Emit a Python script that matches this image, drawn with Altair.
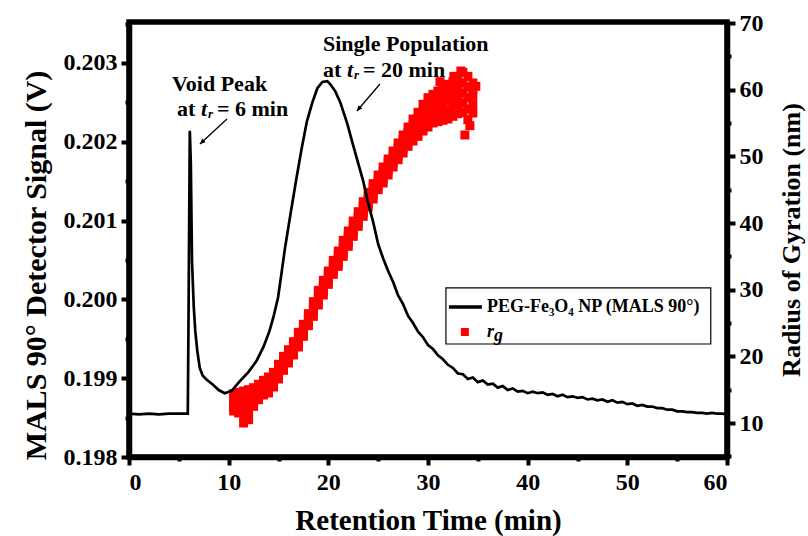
import altair as alt
import pandas as pd

FONT = "Liberation Serif"

# ---------------- data ----------------
# MALS 90 degree detector signal (V) vs retention time (min)
mals_t = [0, 1, 2, 3, 4, 5, 5.9, 5.98, 6.1, 6.2, 6.32, 6.5, 6.65, 6.85, 7.1, 7.4, 7.8,
          8.4, 9.0, 9.6, 10.3, 11.1, 12.0, 12.8, 13.5, 14.1, 14.5, 14.95, 15.3, 15.65,
          16.2, 16.75, 17.3, 17.85, 18.4, 18.9, 19.4, 19.9, 20.2, 20.7, 21.2, 21.9,
          22.5, 22.9, 23.5, 24.0, 24.5, 25.0, 25.5, 26.0, 26.5,
          27.0, 27.5, 28.0, 28.5, 29.0, 29.5, 30.0, 30.5, 31.0, 31.5, 32.0, 32.5,
          33.0, 33.5, 34.0, 34.5, 35.0, 35.5, 36.0, 36.5, 37.0, 37.5, 38.0, 38.5,
          39.0, 39.5, 40.0, 40.5, 41.0, 41.5, 42.0, 42.5, 43.0, 43.5, 44.0, 44.5,
          45.0, 45.5, 46.0, 46.5, 47.0, 47.5, 48.0, 48.5, 49.0, 49.5, 50.0, 50.5,
          51.0, 51.5, 52.0, 52.5, 53.0, 53.5, 54.0, 54.5, 55.0, 55.5, 56.0, 56.5,
          57.0, 57.5, 58.0, 58.5, 59.0, 59.5, 60.0]
mals_v = [0.19855, 0.19854, 0.19855, 0.19854, 0.19855, 0.19855, 0.19855, 0.19990, 0.20214,
          0.20175, 0.20049, 0.19990, 0.19960, 0.19935, 0.19913, 0.19903, 0.19898,
          0.19892, 0.19885, 0.19881, 0.19884, 0.19896, 0.19908, 0.19922, 0.19940,
          0.19960, 0.19978, 0.20002, 0.20033, 0.20065,
          0.20108, 0.20150, 0.20190, 0.20226, 0.20250, 0.20268, 0.20276, 0.20277,
          0.20273, 0.20264, 0.20250, 0.20223,
          0.20195, 0.20177, 0.20150, 0.20122, 0.20098, 0.20070, 0.20052, 0.20036, 0.20022,
          0.20005, 0.19994, 0.19979, 0.19970, 0.19959, 0.19952, 0.19942, 0.19937,
          0.19929, 0.19924, 0.19917, 0.19913,
          0.19906, 0.19905, 0.19899, 0.19901, 0.19895, 0.19897, 0.19892, 0.19893,
          0.19888, 0.19890, 0.19885, 0.19887,
          0.19883, 0.19884, 0.19881, 0.19883, 0.19881, 0.19882, 0.19879, 0.19880,
          0.19877, 0.19879, 0.19876, 0.19877,
          0.19875, 0.19876, 0.19873, 0.19874, 0.19872, 0.19873, 0.19870, 0.19872,
          0.19869, 0.19870, 0.19867, 0.19868,
          0.19865, 0.19866, 0.19864, 0.19864, 0.19862, 0.19862, 0.19860, 0.19860,
          0.19858, 0.19858, 0.19857, 0.19857,
          0.19856, 0.19856, 0.19855, 0.19856, 0.19855, 0.19855, 0.19854]

# radius of gyration (nm) band: readings across the band (low .. high) at each time
rg_t = [10.5, 11.0, 11.5, 12.0, 12.5, 13.0, 13.5, 14.0, 14.5, 15.0, 15.5, 16.0, 16.5,
        17.0, 17.5, 18.0, 18.5, 19.0, 19.5, 20.0, 20.5, 21.0, 21.5, 22.0, 22.5, 23.0,
        23.5, 24.0, 24.5, 25.0, 25.5, 26.0, 26.5, 27.0, 27.5, 28.0, 28.5, 29.0, 29.5,
        30.0, 30.5, 31.0, 31.5, 32.0, 32.5, 33.0, 33.5, 34.0, 34.5]
rg_lo = [11.8, 11.5, 10.0, 10.5, 12.5, 13.5, 14.2, 14.5, 15.4, 16.6, 17.9, 19.0, 20.2,
         21.4, 23.0, 24.6, 26.0, 27.7, 29.2, 30.8, 32.3, 33.5, 35.0, 36.5, 38.0, 39.5,
         41.0, 42.4, 43.6, 45.0, 46.0, 47.2, 48.4, 49.5, 50.5, 51.5, 52.3, 53.0, 53.8,
         54.4, 55.0, 55.2, 55.4, 55.6, 56.0, 56.4, 56.6, 55.5, 56.5]
rg_q1 = [12.4, 12.3, 11.2, 11.7, 13.2, 14.0, 14.7, 15.1, 15.9, 17.1, 18.4, 19.5, 20.7,
         21.9, 23.4, 25.0, 26.5, 28.2, 29.7, 31.3, 32.8, 34.1, 35.6, 37.0, 38.5, 40.0,
         41.5, 42.9, 44.2, 45.5, 46.6, 47.8, 49.0, 50.1, 51.1, 52.2, 53.1, 53.9, 54.7,
         55.4, 56.0, 56.3, 56.6, 56.9, 57.3, 57.7, 58.0, 57.1, 57.7]
rg_mid = [13.0, 13.2, 12.5, 13.0, 14.0, 14.6, 15.3, 15.8, 16.5, 17.7, 19.0, 20.0, 21.2,
          22.5, 23.9, 25.5, 27.1, 28.8, 30.3, 31.8, 33.3, 34.7, 36.2, 37.6, 39.1, 40.6,
          42.1, 43.5, 44.8, 46.1, 47.2, 48.4, 49.6, 50.7, 51.8, 52.9, 53.9, 54.8, 55.7,
          56.5, 57.1, 57.5, 57.9, 58.3, 58.6, 59.0, 59.5, 58.8, 59.0]
rg_q3 = [13.7, 13.9, 13.6, 14.0, 14.6, 15.2, 15.8, 16.3, 17.0, 18.2, 19.5, 20.5, 21.7,
         23.0, 24.3, 25.9, 27.6, 29.3, 30.8, 32.3, 33.8, 35.2, 36.8, 38.2, 39.7, 41.1,
         42.6, 44.0, 45.3, 46.6, 47.8, 49.0, 50.2, 51.3, 52.5, 53.6, 54.7, 55.7, 56.7,
         57.6, 58.2, 58.6, 59.1, 59.5, 59.9, 60.3, 61.0, 60.4, 60.0]
rg_hi = [14.4, 14.6, 14.8, 15.0, 15.3, 15.8, 16.4, 16.9, 17.6, 18.8, 20.0, 21.0, 22.2,
         23.6, 24.8, 26.4, 28.2, 29.9, 31.4, 32.8, 34.4, 35.8, 37.4, 38.8, 40.3, 41.7,
         43.2, 44.6, 45.9, 47.2, 48.4, 49.6, 50.8, 52.0, 53.2, 54.4, 55.6, 56.6, 57.8,
         58.8, 59.3, 59.8, 60.4, 60.8, 61.2, 61.6, 62.6, 62.0, 61.0]
rg_extra_t = [33.3, 33.7, 34.2, 32.6, 34.8, 31.2]
rg_extra = [62.8, 53.2, 54.6, 62.0, 60.5, 61.2]

legend_labels = ["PEG-Fe\u2083O\u2084 NP (MALS 90\u00b0)", "r", "g"]

line_df = pd.DataFrame({"t": mals_t, "v": mals_v})
rg_df = pd.DataFrame({
    "t": rg_t * 5 + rg_extra_t,
    "rg": rg_lo + rg_q1 + rg_mid + rg_q3 + rg_hi + rg_extra,
})

# ---------------- scales / axes ----------------
x_scale = alt.Scale(domain=[0, 60], nice=False, zero=False)
yl_scale = alt.Scale(domain=[0.198, 0.20352], nice=False, zero=False)
yr_scale = alt.Scale(domain=[4.9, 70.15], nice=False, zero=False)

common = dict(
    domainColor="black", domainWidth=5.5, tickColor="black", tickWidth=4,
    labelFont=FONT, labelFontWeight="bold", labelColor="black", labelFontSize=24,
    titleFont=FONT, titleFontWeight="bold", titleColor="black", grid=False,
)

minor_x = "datum.value % 10 != 0"
x_axis = alt.Axis(
    values=list(range(0, 61, 5)), format="d",
    labelExpr="datum.value % 10 == 0 ? datum.label : ''",
    tickSize={"condition": {"test": minor_x, "value": 4}, "value": 8},
    labelPadding=5, title="Retention Time (min)", titleFontSize=29, titlePadding=12,
    **common)

minor_l = "abs(datum.value*1000 - round(datum.value*1000)) > 0.1"
yl_axis = alt.Axis(
    values=[0.198, 0.1985, 0.199, 0.1995, 0.2, 0.2005, 0.201, 0.2015, 0.202, 0.2025, 0.203, 0.2035],
    labelExpr=f"{minor_l} ? '' : format(datum.value, '.3f')",
    tickSize={"condition": {"test": minor_l, "value": 4}, "value": 8},
    labelPadding=4, title="MALS 90\u00b0 Detector Signal (V)", titleFontSize=30,
    titlePadding=12, titleY=243, orient="left",
    **common)

minor_r = "datum.value % 10 != 0"
yr_axis = alt.Axis(
    values=list(range(5, 71, 5)), format="d",
    labelExpr="datum.value % 10 == 0 ? datum.label : ''",
    tickSize={"condition": {"test": minor_r, "value": 4}, "value": 8},
    labelPadding=4, title="Radius of Gyration (nm)", titleFontSize=26,
    titlePadding=15, titleAngle=-90, titleBaseline="top", orient="right",
    **common)

X = alt.X("t:Q", scale=x_scale, axis=x_axis)
YL = alt.Y("v:Q", scale=yl_scale, axis=yl_axis)

line = alt.Chart(line_df).mark_line(strokeWidth=2.7, color="black").encode(x=X, y=YL)

# ---------------- annotations (in data coordinates) ----------------
def txt(t, v, s, dx=0, dy=0, size=22, style="normal"):
    d = pd.DataFrame({"t": [t], "v": [v], "s": [s]})
    return alt.Chart(d).mark_text(
        align="left", baseline="middle", font=FONT, fontWeight="bold",
        fontSize=size, fontStyle=style, color="black", dx=dx, dy=dy,
    ).encode(x=X, y=YL, text="s:N")

texts = [
    txt(4.31, 0.202733, "Void Peak"),
    txt(4.81, 0.202416, "at"),
    txt(4.81, 0.202416, "t", dx=24, style="italic"),
    txt(4.81, 0.202416, "r", dx=31, dy=5, size=13, style="italic"),
    txt(4.81, 0.202416, "= 6 min", dx=40),
    txt(19.46, 0.203241, "Single Population"),
    txt(19.46, 0.202911, "at"),
    txt(19.46, 0.202911, "t", dx=24, style="italic"),
    txt(19.46, 0.202911, "r", dx=31, dy=5, size=13, style="italic"),
    txt(19.46, 0.202911, "= 20 min", dx=40),
]

arrow_df = pd.DataFrame({
    "t": [9.83, 25.18], "v": [0.202289, 0.202733],
    "t2": [7.12, 22.87], "v2": [0.201972, 0.202391],
    "ang": [227, 220],
})
arrow_shaft = alt.Chart(arrow_df).mark_rule(color="black", strokeWidth=1.3).encode(
    x=X, y=YL, x2="t2:Q", y2="v2:Q",
)
arrow_head = alt.Chart(arrow_df).mark_point(
    shape="M0,0L-0.55,1.2L0.55,1.2Z", filled=True, color="black", size=80, opacity=1,
).encode(
    x=alt.X("t2:Q", scale=x_scale, axis=x_axis),
    y=alt.Y("v2:Q", scale=yl_scale, axis=yl_axis),
    angle=alt.Angle("ang:Q", scale=None),
)

# ---------------- legend box (anchored in data coordinates) ----------------
box_df = pd.DataFrame({"t": [31.8], "t2": [58.37], "v": [0.200145], "v2": [0.199434]})
leg_box = alt.Chart(box_df).mark_rect(fill="white", stroke="black", strokeWidth=1.2).encode(
    x=X, x2="t2:Q", y=YL, y2="v2:Q")
leg_line_df = pd.DataFrame({"t": [32.1], "t2": [35.41], "v": [0.199904]})
leg_line = alt.Chart(leg_line_df).mark_rule(color="black", strokeWidth=3.5).encode(
    x=X, x2="t2:Q", y=YL)
leg_sq_df = pd.DataFrame({"t": [33.7], "v": [0.199586]})
leg_sq = alt.Chart(leg_sq_df).mark_square(size=64, color="#ff0000", opacity=1).encode(x=X, y=YL)
leg_texts = [
    txt(35.91, 0.199904, legend_labels[0], size=18),
    txt(35.91, 0.199586, legend_labels[1], size=18, style="italic"),
    txt(35.91, 0.199586, legend_labels[2], dx=7, dy=4, size=18, style="italic"),
]

squares = alt.Chart(rg_df).mark_square(size=81, opacity=1, color="#ff0000").encode(
    x=X,
    y=alt.Y("rg:Q", scale=yr_scale, axis=yr_axis),
)

left_layer = alt.layer(line, arrow_shaft, arrow_head, *texts,
                       leg_box, leg_line, leg_sq, *leg_texts)

chart = alt.layer(squares, left_layer).resolve_scale(y="independent").properties(
    width=598, height=435,
    autosize=alt.AutoSizeParams(type="none"),
    padding={"left": 129, "top": 22, "right": 81, "bottom": 79},
    background="white",
).configure_view(stroke="black", strokeWidth=5.5)

chart.save("out.html", embed_options={"renderer": "svg", "actions": False})
